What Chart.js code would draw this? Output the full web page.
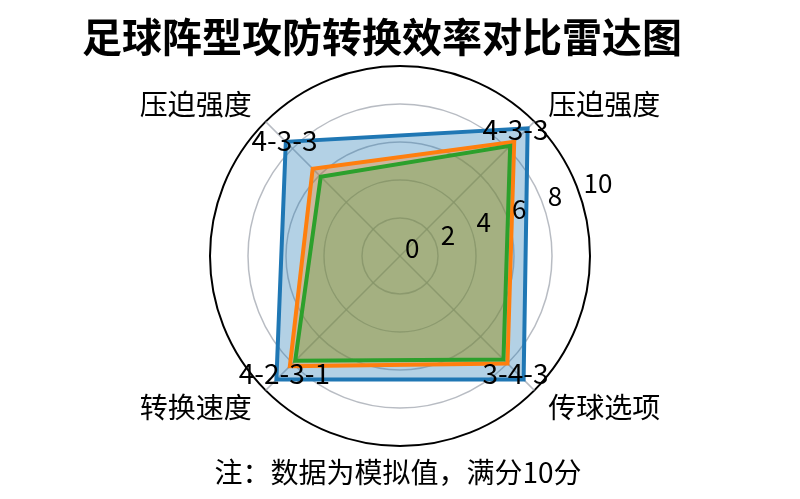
<!DOCTYPE html>
<html>
<head>
<meta charset="utf-8">
<script src="https://cdn.jsdelivr.net/npm/chart.js@4.4.0/dist/chart.umd.min.js"></script>
<style>
  html, body { margin: 0; padding: 0; background: #fff; }
  #wrap { width: 800px; height: 499px; }
</style>
</head>
<body>
<div id="wrap"><canvas id="radar"></canvas></div>
<script>
// 轴标签（顺时针，从右上开始）
const labels = ["压迫强度", "传球选项", "转换速度", "压迫强度"];
const formations = ["4-3-3", "3-4-3", "4-2-3-1", "4-3-3"];
const tickValues = [0, 2, 4, 6, 8, 10];
const seriesNames = ["4-3-3", "4-2-3-1", "3-4-3"];
const blueValues = [9.5, 9.2, 9.2, 8.5];
const orangeValues = [8.5, 8.0, 8.2, 6.5];
const greenValues = [8.2, 7.7, 7.8, 5.9];

const FONT = '"Noto Sans CJK SC", "Noto Sans", sans-serif';

// 文字全部自己画：标题、注释、刻度、两组轴标签
const textPlugin = {
  id: "texts",
  afterDraw(chart) {
    const ctx = chart.ctx;
    const r = chart.scales.r;
    const R = r.drawingArea;
    ctx.save();
    ctx.fillStyle = "#000";

    ctx.font = "bold 40px " + FONT;
    ctx.textAlign = "center";
    ctx.textBaseline = "middle";
    ctx.fillText("足球阵型攻防转换效率对比雷达图", 382, 37);

    ctx.font = "28px " + FONT;
    ctx.fillText("注：数据为模拟值，满分10分", 398, 472);

    // 刻度，沿约20°方向
    ctx.font = "26px " + FONT;
    ctx.textAlign = "left";
    const a = 20 * Math.PI / 180;
    tickValues.forEach(v => {
      const d = r.getDistanceFromCenterForValue(v);
      ctx.fillText(String(v), r.xCenter + 5 + d * Math.cos(a), r.yCenter - 8 - d * Math.sin(a));
    });

    // 中文轴名
    ctx.font = "28px " + FONT;
    ctx.textAlign = "center";
    labels.forEach((lab, i) => {
      const p = r.getPointPosition(i, R + 14);
      const sx = p.x > r.xCenter ? 1 : -1;
      const sy = p.y > r.yCenter ? 1 : -1;
      ctx.fillText(lab, p.x + sx * 60, p.y + sy * 7);
    });

    // 阵型名
    const dy = [-11, 2, 2, 0];
    formations.forEach((f, i) => {
      const p = r.getPointPosition(i, R * 0.86);
      ctx.fillText(f, p.x, p.y + dy[i]);
    });
    ctx.restore();
  }
};

new Chart(document.getElementById("radar"), {
  type: "radar",
  data: {
    labels: labels,
    datasets: [
      {
        label: seriesNames[0],
        data: blueValues,
        borderColor: "#1f77b4",
        backgroundColor: "rgba(31,119,180,0.34)",
        borderWidth: 4,
        order: 3,
      },
      {
        label: seriesNames[1],
        data: orangeValues,
        borderColor: "#ff7f0e",
        backgroundColor: "rgba(255,127,14,0.33)",
        borderWidth: 4,
        order: 2,
      },
      {
        label: seriesNames[2],
        data: greenValues,
        borderColor: "#2ca02c",
        backgroundColor: "rgba(44,160,44,0.25)",
        borderWidth: 4,
        order: 1,
      },
    ],
  },
  options: {
    responsive: true,
    maintainAspectRatio: false,
    animation: false,
    layout: { padding: { top: 66, bottom: 53, left: 0, right: 0 } },
    elements: {
      line: { fill: true, tension: 0, borderJoinStyle: "miter" },
      point: { radius: 0, hoverRadius: 0 },
    },
    plugins: {
      legend: { display: false },
      title: { display: false },
      tooltip: { enabled: false },
    },
    scales: {
      r: {
        z: 1,
        min: 0,
        max: 10,
        startAngle: 45,
        ticks: { stepSize: 2, display: false },
        pointLabels: { display: false },
        grid: {
          circular: true,
          color: c => (c.tick && c.tick.value === 10 ? "#000" : "rgba(160,165,175,0.75)"),
          lineWidth: c => (c.tick && c.tick.value === 10 ? 2 : 1.5),
        },
        angleLines: { color: "rgba(160,165,175,0.75)", lineWidth: 1.5 },
      },
    },
  },
  plugins: [textPlugin],
});
</script>
</body>
</html>
